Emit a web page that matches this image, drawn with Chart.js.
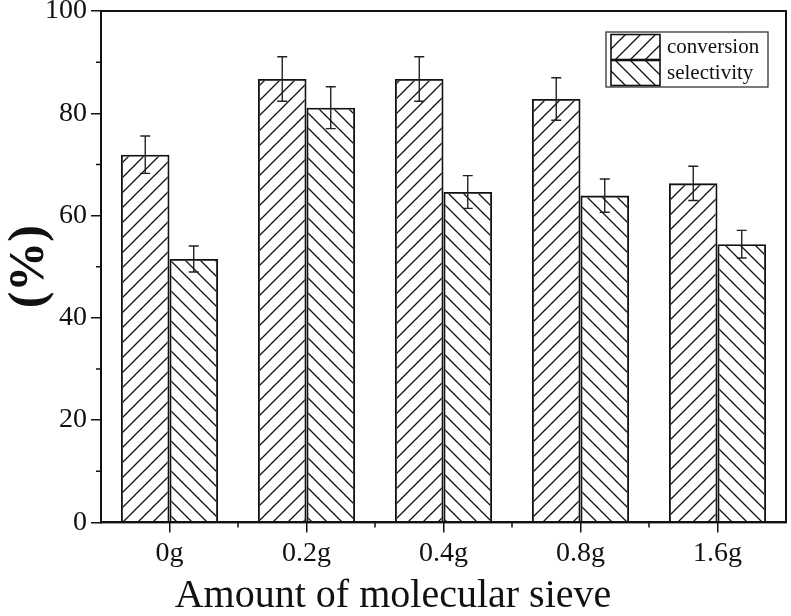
<!DOCTYPE html>
<html>
<head>
<meta charset="utf-8">
<script src="https://cdn.jsdelivr.net/npm/chart.js@4.4.1/dist/chart.umd.min.js"></script>
<style>
    body { margin: 0; background: #fff; }
    #box { width: 791px; height: 616px; }
</style>
</head>
<body>
<div id="box"><canvas id="grafico" width="791" height="616"></canvas></div>
<script>
// data
var labels = ['0g', '0.2g', '0.4g', '0.8g', '1.6g'];
var conversion = [71.9, 86.7, 86.7, 82.8, 66.3];
var conversionErr = [3.65, 4.35, 4.35, 4.15, 3.35];
var selectivity = [51.5, 81.1, 64.6, 63.9, 54.4];
var selectivityErr = [2.55, 4.1, 3.2, 3.25, 2.7];
var yTicks = [0, 20, 40, 60, 80, 100];
var yMinorTicks = [10, 30, 50, 70, 90];

var fonte = 'Liberation Serif, Times New Roman, serif';
var preto = '#111';

// hatch pattern for the bars
function hachura(dir) {
    var s = 15;
    var c = document.createElement('canvas');
    c.width = s;
    c.height = s;
    var g = c.getContext('2d');
    g.strokeStyle = preto;
    g.lineWidth = 1.3;
    g.beginPath();
    if (dir == '/') {
        g.moveTo(-2, s + 2); g.lineTo(s + 2, -2);
        g.moveTo(-2, 2); g.lineTo(2, -2);
        g.moveTo(s - 2, s + 2); g.lineTo(s + 2, s - 2);
    } else {
        g.moveTo(-2, -2); g.lineTo(s + 2, s + 2);
        g.moveTo(s - 2, -2); g.lineTo(s + 2, 2);
        g.moveTo(-2, s - 2); g.lineTo(2, s + 2);
    }
    g.stroke();
    return g.createPattern(c, 'repeat');
}

var ctx = document.getElementById('grafico').getContext('2d');

// error bars, minor ticks, frame and legend
var extras = {
    id: 'extras',
    afterDatasetsDraw: function(chart) {
        var c = chart.ctx;
        var y = chart.scales.y;
        c.save();
        c.strokeStyle = '#222';
        c.lineWidth = 1.4;
        chart.data.datasets.forEach(function(ds, di) {
            var meta = chart.getDatasetMeta(di);
            meta.data.forEach(function(bar, i) {
                var t = y.getPixelForValue(ds.data[i] + ds.erros[i]);
                var b = y.getPixelForValue(ds.data[i] - ds.erros[i]);
                c.beginPath();
                c.moveTo(bar.x, t); c.lineTo(bar.x, b);
                c.moveTo(bar.x - 5, t); c.lineTo(bar.x + 5, t);
                c.moveTo(bar.x - 5, b); c.lineTo(bar.x + 5, b);
                c.stroke();
            });
        });
        c.restore();
    },
    afterDraw: function(chart) {
        var c = chart.ctx;
        var a = chart.chartArea;
        var x = chart.scales.x;
        var y = chart.scales.y;
        c.save();
        c.strokeStyle = preto;
        c.lineWidth = 2;
        c.strokeRect(a.left, a.top, a.right - a.left, a.bottom - a.top);

        // minor ticks
        c.lineWidth = 1.5;
        c.beginPath();
        yMinorTicks.forEach(function(v) {
            var p = y.getPixelForValue(v);
            c.moveTo(a.left - 5, p); c.lineTo(a.left, p);
        });
        for (var i = 0; i < labels.length - 1; i++) {
            var p = (x.getPixelForValue(i) + x.getPixelForValue(i + 1)) / 2;
            c.moveTo(p, a.bottom); c.lineTo(p, a.bottom + 5);
        }
        c.stroke();

        // legend
        var lx = a.right - 180;
        var ly = a.top + 21;
        c.lineWidth = 1.3;
        c.strokeStyle = '#333';
        c.strokeRect(lx, ly, 162, 55);
        c.font = '21px ' + fonte;
        c.textBaseline = 'middle';
        c.fillStyle = preto;
        chart.data.datasets.forEach(function(ds, di) {
            var sy = ly + 2.5 + di * 26;
            c.fillStyle = ds.backgroundColor;
            c.fillRect(lx + 5, sy, 49, 25);
            c.strokeStyle = preto;
            c.lineWidth = 1.6;
            c.strokeRect(lx + 5, sy, 49, 25);
            c.fillStyle = preto;
            c.fillText(ds.label, lx + 61, sy + 13);
        });
        c.restore();
    }
};

new Chart(ctx, {
    type: 'bar',
    data: {
        labels: labels,
        datasets: [{
            label: 'conversion',
            data: conversion,
            erros: conversionErr,
            backgroundColor: hachura('/'),
            borderColor: preto,
            borderWidth: 1.8
        }, {
            label: 'selectivity',
            data: selectivity,
            erros: selectivityErr,
            backgroundColor: hachura('\\'),
            borderColor: preto,
            borderWidth: 1.8
        }]
    },
    options: {
        responsive: false,
        animation: false,
        layout: { padding: { top: 11, right: 5, left: 0, bottom: 0 } },
        categoryPercentage: 0.708,
        barPercentage: 1,
        plugins: {
            legend: { display: false },
            tooltip: { enabled: false },
            title: {
                display: true,
                text: 'Amount of molecular sieve',
                position: 'bottom',
                color: preto,
                font: { family: fonte, size: 40, weight: 'normal', lineHeight: 1.0 },
                padding: { top: 2, bottom: 0 }
            }
        },
        scales: {
            x: {
                offset: true,
                grid: { display: true, drawOnChartArea: false, offset: false, tickLength: 10, color: preto, lineWidth: 1.5 },
                border: { display: true, color: preto, width: 2 },
                ticks: { color: preto, font: { family: fonte, size: 28 }, padding: 4 }
            },
            y: {
                min: 0,
                max: 100,
                afterBuildTicks: function(scale) {
                    scale.ticks = yTicks.map(function(v) { return { value: v }; });
                },
                afterFit: function(scale) {
                    scale.width = 101;
                    scale.paddingTop = 0;
                    scale.paddingBottom = 0;
                },
                grid: { display: true, drawOnChartArea: false, tickLength: 10, color: preto, lineWidth: 1.5 },
                border: { display: true, color: preto, width: 2 },
                ticks: { color: preto, font: { family: fonte, size: 28 }, padding: 4 },
                title: {
                    display: true,
                    text: '(%)',
                    color: preto,
                    font: { family: fonte, size: 50, weight: 'bold' },
                    padding: { top: 0, bottom: 4 }
                }
            }
        }
    },
    plugins: [extras]
});
</script>
</body>
</html>
